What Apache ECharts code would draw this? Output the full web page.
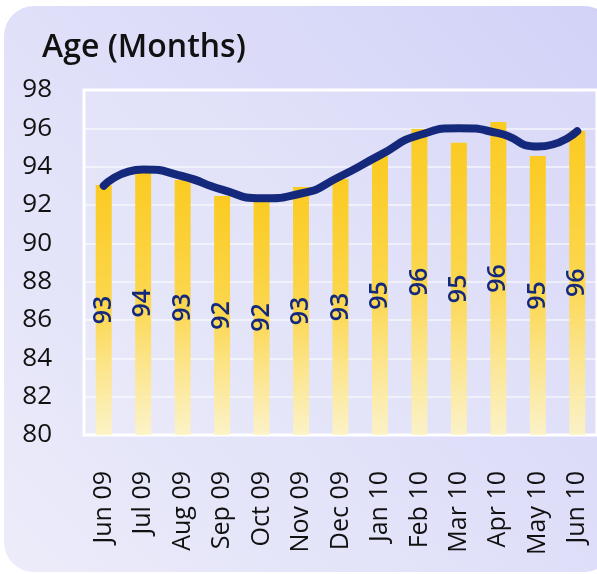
<!DOCTYPE html>
<html>
<head>
<meta charset="utf-8">
<script src="https://cdn.jsdelivr.net/npm/echarts@6/dist/echarts.min.js"></script>
<style>
  html, body { margin: 0; padding: 0; background: #fff; }
  #chart { width: 597px; height: 574px; }
</style>
</head>
<body>
<div id="chart"></div>
<script>
const months = ['Jun 09', 'Jul 09', 'Aug 09', 'Sep 09', 'Oct 09', 'Nov 09', 'Dec 09',
  'Jan 10', 'Feb 10', 'Mar 10', 'Apr 10', 'May 10', 'Jun 10'];
// monthly average age (bars)
const ageValues = [93.04, 93.74, 93.3, 92.47, 92.26, 92.94, 93.36, 94.56, 95.97, 95.25, 96.33, 94.56, 95.88];
// smoothed trend line
const trendValues = [93.0, 93.85, 93.5, 92.8, 92.35, 92.6, 93.5, 94.6, 95.65, 96.0, 95.75, 95.05, 95.85];

const navy = '#14297c';
const font = '"Open Sans", sans-serif';

const chart = echarts.init(document.getElementById('chart'));

const option = {
  backgroundColor: '#ffffff',
  animation: false,
  graphic: [{
    type: 'rect',
    z: -10,
    shape: { x: 4, y: 6, width: 610, height: 566, r: 30 },
    style: {
      fill: new echarts.graphic.LinearGradient(1, 0, 0, 1, [
        { offset: 0, color: '#d2d2f8' },
        { offset: 1, color: '#ececfa' }
      ])
    }
  }],
  title: {
    text: 'Age (Months)',
    left: 37,
    top: 27,
    textStyle: { color: '#111', fontSize: 32, fontWeight: 600, fontFamily: font }
  },
  grid: {
    left: 84,
    right: -7,
    top: 90,
    bottom: 139,
    show: true,
    borderColor: '#ffffff',
    borderWidth: 3,
    backgroundColor: 'rgba(255,255,255,0.12)'
  },
  xAxis: {
    type: 'category',
    data: months,
    axisLine: { show: false },
    axisTick: { show: false },
    axisLabel: {
      rotate: 90,
      margin: 36,
      color: '#111',
      fontSize: 25,
      fontFamily: font
    }
  },
  yAxis: {
    type: 'value',
    min: 80,
    max: 98,
    interval: 2,
    axisLine: { show: false },
    axisTick: { show: false },
    axisLabel: { margin: 32, color: '#111', fontSize: 26, fontFamily: font },
    splitLine: { lineStyle: { color: 'rgba(255,255,255,0.7)', width: 1.5 } }
  },
  series: [
    {
      name: 'Age',
      type: 'bar',
      data: ageValues,
      barWidth: 16,
      itemStyle: {
        color: new echarts.graphic.LinearGradient(0, 0, 0, 1, [
          { offset: 0, color: '#fbcb22' },
          { offset: 0.5, color: '#fcd750' },
          { offset: 1, color: 'rgba(255,244,190,0.85)' }
        ])
      },
      label: {
        show: true,
        position: 'inside',
        rotate: 90,
        color: navy,
        fontSize: 25,
        fontWeight: 600,
        fontFamily: font,
        formatter: p => Math.round(p.value)
      }
    },
    {
      name: 'Trend',
      type: 'line',
      data: trendValues,
      smooth: 0.6,
      symbol: 'none',
      z: 5,
      lineStyle: { color: navy, width: 8, cap: 'round' }
    }
  ]
};

chart.setOption(option);
</script>
</body>
</html>
